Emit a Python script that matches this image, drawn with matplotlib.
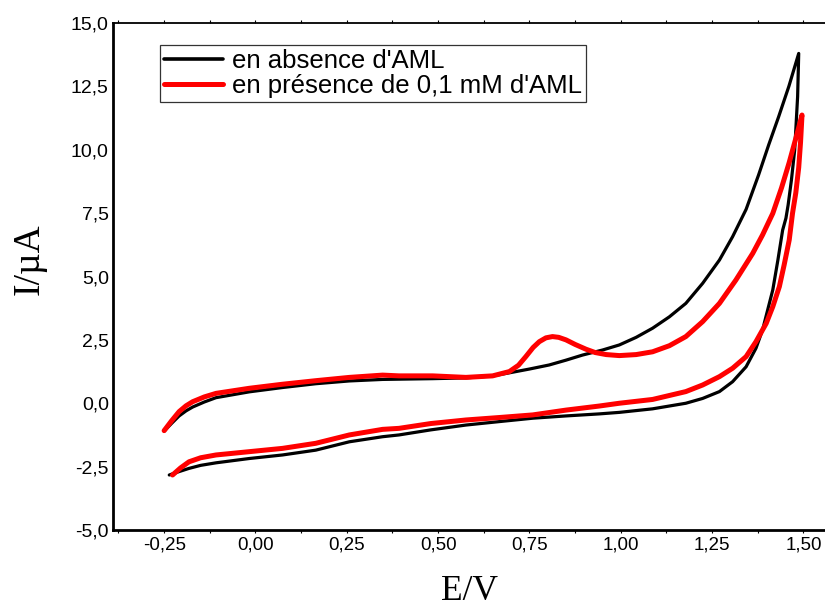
import matplotlib.pyplot as plt
from matplotlib.ticker import FuncFormatter, MultipleLocator

# voltammogramme sans AML (noir) : balayage aller puis retour
E_abs = [-0.25, -0.23, -0.209, -0.19, -0.172, -0.14, -0.108, -0.017, 0.074, 0.165,
         0.257, 0.348, 0.393, 0.485, 0.576, 0.65, 0.695, 0.75, 0.804, 0.85,
         0.895, 0.95, 0.996, 1.042, 1.087, 1.133, 1.178, 1.224, 1.27, 1.306,
         1.343, 1.377, 1.405, 1.432, 1.46, 1.487,
         1.484, 1.476, 1.467, 1.458, 1.452, 1.443, 1.43, 1.416, 1.402, 1.388,
         1.37, 1.343, 1.306, 1.27, 1.224, 1.178, 1.087, 0.996, 0.941, 0.85,
         0.759, 0.67, 0.576, 0.48, 0.393, 0.348, 0.257, 0.165, 0.074, -0.017,
         -0.108, -0.15, -0.182, -0.21, -0.236]
I_abs = [-1.1, -0.8, -0.50, -0.3, -0.15, 0.05, 0.22, 0.45, 0.62, 0.77,
         0.88, 0.94, 0.95, 0.97, 1.0, 1.08, 1.20, 1.35, 1.51, 1.70,
         1.90, 2.10, 2.30, 2.60, 2.96, 3.41, 3.94, 4.73, 5.65, 6.57,
         7.65, 9.0, 10.2, 11.3, 12.5, 13.8,
         12.1, 10.0, 8.8, 7.82, 7.3, 6.83, 5.65, 4.47, 3.68, 2.89,
         2.17, 1.44, 0.85, 0.46, 0.19, 0.0, -0.22, -0.36, -0.42, -0.5,
         -0.59, -0.72, -0.86, -1.05, -1.25, -1.32, -1.52, -1.85, -2.04, -2.18,
         -2.35, -2.45, -2.57, -2.7, -2.83]

# voltammogramme avec 0,1 mM d'AML (rouge)
E_pres = [-0.25, -0.23, -0.209, -0.19, -0.172, -0.14, -0.108, -0.017, 0.074, 0.165,
          0.257, 0.348, 0.393, 0.485, 0.576, 0.649, 0.695, 0.72, 0.74, 0.76,
          0.777, 0.795, 0.813, 0.83, 0.85, 0.875, 0.905, 0.93, 0.96, 0.996,
          1.042, 1.087, 1.133, 1.178, 1.224, 1.27, 1.315, 1.361, 1.388, 1.416,
          1.44, 1.461, 1.48, 1.496,
          1.492, 1.487, 1.479, 1.47, 1.461, 1.447, 1.434, 1.416, 1.398, 1.37,
          1.343, 1.306, 1.27, 1.224, 1.178, 1.087, 0.996, 0.941, 0.85, 0.759,
          0.67, 0.576, 0.48, 0.393, 0.348, 0.257, 0.165, 0.074, -0.017, -0.108,
          -0.15, -0.182, -0.205, -0.227]
I_pres = [-1.08, -0.7, -0.33, -0.1, 0.06, 0.25, 0.39, 0.59, 0.75, 0.89,
          1.02, 1.11, 1.08, 1.08, 1.02, 1.08, 1.25, 1.5, 1.84, 2.2,
          2.43, 2.58, 2.63, 2.6, 2.50, 2.32, 2.13, 2.0, 1.92, 1.88,
          1.92, 2.03, 2.27, 2.63, 3.22, 3.94, 4.86, 5.91, 6.64, 7.49,
          8.5, 9.5, 10.5, 11.37,
          10.3, 9.3, 8.3, 7.49, 6.44, 5.45, 4.60, 3.81, 3.15, 2.43,
          1.84, 1.38, 1.05, 0.72, 0.46, 0.15, 0.0, -0.11, -0.27, -0.46,
          -0.56, -0.66, -0.8, -0.99, -1.03, -1.25, -1.58, -1.78, -1.91, -2.04,
          -2.15, -2.31, -2.55, -2.83]

x_ticks = [-0.25, 0.0, 0.25, 0.5, 0.75, 1.0, 1.25, 1.5]
y_ticks = [-5.0, -2.5, 0.0, 2.5, 5.0, 7.5, 10.0, 12.5, 15.0]

fig = plt.figure(figsize=(8.25, 6.08), dpi=100)
ax = fig.add_axes([113 / 825, 78 / 608, 727 / 825, 507 / 608])

ax.plot(E_abs, I_abs, color='black', lw=2.3, solid_joinstyle='round',
        solid_capstyle='round', label="en absence d'AML")
ax.plot(E_pres, I_pres, color='#ff0000', lw=3.6, solid_joinstyle='round',
        solid_capstyle='round', label="en présence de 0,1 mM d'AML")

ax.set_xlim(-0.39, 1.60)
ax.set_ylim(-5, 15)
ax.set_xticks(x_ticks)
ax.set_yticks(y_ticks)
ax.xaxis.set_minor_locator(MultipleLocator(0.125))

ax.xaxis.set_major_formatter(FuncFormatter(lambda v, p: f"{v:.2f}".replace('.', ',')))
ax.yaxis.set_major_formatter(FuncFormatter(lambda v, p: f"{v:.1f}".replace('.', ',')))

for lab in ax.get_xticklabels():
    lab.set_family('Liberation Sans')
    lab.set_fontsize(13.5)
for lab in ax.get_yticklabels():
    lab.set_family('Liberation Sans')
    lab.set_fontsize(14)

ax.tick_params(axis='x', which='both', direction='out', length=2, width=0.8,
               top=True, pad=3)
ax.tick_params(axis='y', length=0, pad=3)

ax.spines['left'].set_linewidth(2)
ax.spines['bottom'].set_linewidth(2)
ax.spines['top'].set_linewidth(1.3)
ax.spines['right'].set_visible(False)

ax.set_xlabel('E/V', family='Liberation Serif', fontsize=25.5)
ax.set_ylabel('I/µA', family='Liberation Serif', fontsize=27)
ax.xaxis.set_label_coords(0.491, -0.088)
ax.yaxis.set_label_coords(-0.091, 0.535)

leg = ax.legend(loc='upper left', bbox_to_anchor=(0.065, 0.957),
                prop={'family': 'Liberation Sans', 'size': 18.5},
                frameon=True, fancybox=False, shadow=False, borderpad=0.15,
                handlelength=2.3, handletextpad=0.35, labelspacing=0.05, borderaxespad=0)
leg.get_frame().set_edgecolor('black')
leg.get_frame().set_linewidth(0.9)
leg.get_lines()[0].set_linewidth(2.6)
leg.get_lines()[1].set_linewidth(3.6)

fig.savefig('out.png', dpi=100)
